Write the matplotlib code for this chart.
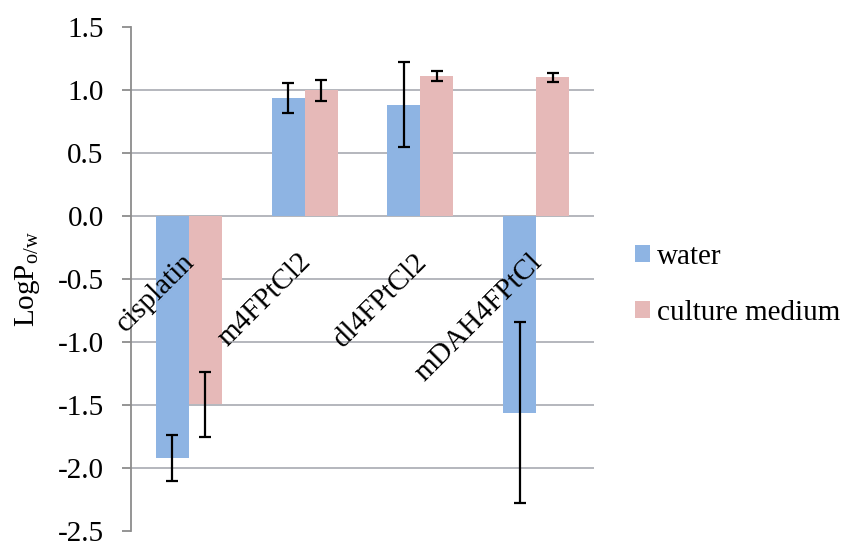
import matplotlib
matplotlib.use("Agg")
import matplotlib.pyplot as plt
import numpy as np

plt.rcParams['font.family'] = ['Liberation Serif', 'DejaVu Serif']
plt.rcParams['font.size'] = 21
plt.rcParams['mathtext.fontset'] = 'custom'
plt.rcParams['mathtext.rm'] = 'Liberation Serif'
plt.rcParams['mathtext.it'] = 'Liberation Serif:italic'

# Partition coefficients (log P, octanol/water) per compound
compounds = ["cisplatin", "m4FPtCl2", "dl4FPtCl2", "mDAH4FPtCl"]
water = [-1.92, 0.936, 0.884, -1.56]
water_err = [0.184, 0.122, 0.337, 0.716]
medium = [-1.495, 0.997, 1.11, 1.10]
medium_err = [0.259, 0.083, 0.038, 0.038]
series_names = ["water", "culture medium"]
yticks = [1.5, 1.0, 0.5, 0.0, -0.5, -1.0, -1.5, -2.0, -2.5]

blue = "#8EB4E3"
pink = "#E6B9B8"

fig = plt.figure(figsize=(8.46, 5.44), dpi=100)
ax = fig.add_axes([131 / 846, 13 / 544, 463 / 846, 504 / 544])

x = np.arange(len(compounds))
width = 1 / 3.5  # two bars plus a 150% gap

ax.bar(x - width / 2, water, width, color=blue, label=series_names[0], zorder=2)
ax.bar(x + width / 2, medium, width, color=pink, label=series_names[1], zorder=2)
ax.errorbar(x - width / 2, water, yerr=water_err, fmt="none", ecolor="black",
            elinewidth=1.6, capsize=4.3, capthick=1.6, zorder=3)
ax.errorbar(x + width / 2, medium, yerr=medium_err, fmt="none", ecolor="black",
            elinewidth=1.6, capsize=4.3, capthick=1.6, zorder=3)

ax.set_xlim(-0.5, len(compounds) - 0.5)
ax.set_ylim(min(yticks), max(yticks))
ax.set_yticks(yticks)
ax.set_yticklabels([f"{v:.1f}" for v in yticks])
ax.set_xticks([])

ax.yaxis.grid(True, color="#a8aab2", linewidth=1.2, zorder=0)
ax.set_axisbelow(True)
gl = ax.yaxis.get_gridlines()
gl[0].set_visible(False)
gl[-1].set_visible(False)

for side in ["top", "right", "bottom"]:
    ax.spines[side].set_visible(False)
ax.spines["left"].set_color("#8c8c8c")
ax.spines["left"].set_linewidth(1.3)
ax.tick_params(axis="y", direction="out", length=6.7, width=1.3,
               color="#8c8c8c", pad=13, labelsize=21)

# Category names sit just under the zero line, slanted at 45 degrees
for xi, name in zip(x, compounds):
    ax.annotate(name, xy=(xi, 0), xycoords="data",
                xytext=(7, -47), textcoords="offset pixels",
                rotation=45, rotation_mode="anchor",
                ha="right", va="baseline", fontsize=21)

ax.set_ylabel(r"LogP$_{\mathrm{o/w}}$", fontsize=21)
ax.yaxis.set_label_coords(-0.193, 0.5)

ax.legend(loc="center left", bbox_to_anchor=(635 / 846, 259.25 / 544),
          bbox_transform=fig.transFigure, frameon=False, borderpad=0,
          handlelength=0.51, handleheight=0.51, handletextpad=0.24,
          labelspacing=1.04, fontsize=21, borderaxespad=0)

fig.savefig("out.png", dpi=100)
